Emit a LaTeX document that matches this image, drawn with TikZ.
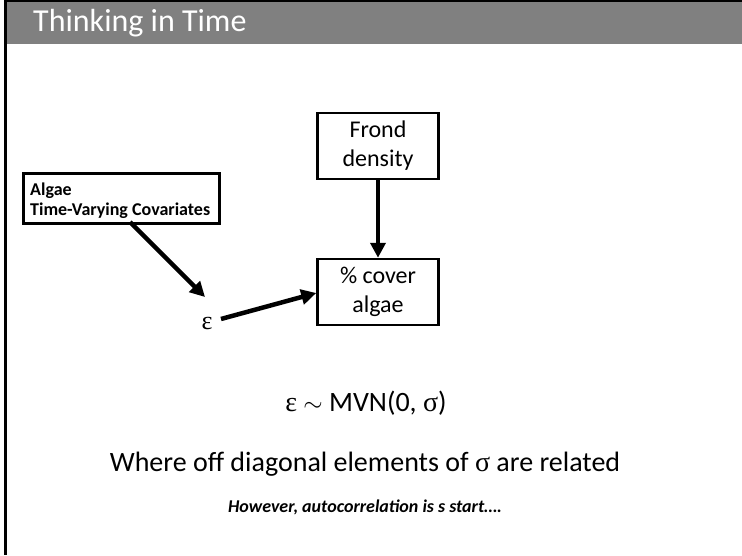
\documentclass[tikz,border=0pt]{standalone}
\usepackage{fontspec}
\setmainfont{Carlito}
\newfontfamily\grk{Liberation Serif}
\usetikzlibrary{arrows.meta}
\tikzset{
  box/.style={draw=black, line width=2.5pt, fill=white, inner sep=0pt},
  arr/.style={line width=4.5pt, -{Triangle[length=15pt,width=15pt]}},
  boxtext/.style={align=center, font=\fontsize{24}{29}\selectfont},
}
\begin{document}
\begin{tikzpicture}[x=1pt,y=-1pt]
\useasboundingbox (0,0) rectangle (742,555);
\fill[white] (0,0) rectangle (742,555);
\fill[black!50] (5,0) rectangle (742,44);
\fill[black] (5,0) rectangle (742,1.5);
\fill[black] (4,0) rectangle (7,555);
\node[anchor=base west, text=white, font=\fontsize{32}{34}\selectfont, inner sep=0pt] (title) at (33,31) {Thinking in Time};

\node[box, boxtext, minimum width=121pt, minimum height=66pt] (frond) at (378,146) {Frond\\density};
\node[box, boxtext, minimum width=121pt, minimum height=66pt] (cover) at (378,292) {\% cover\\algae};
\node[box, minimum width=196pt, minimum height=50pt, anchor=north west] (algae) at (22,172) {};
\node[anchor=base west, inner sep=0pt, align=left, font=\bfseries\fontsize{18}{19.5}\selectfont] (algaetxt) at (30,215) {Algae\\Time-Varying Covariates};

\node[inner sep=0pt, font=\grk\fontsize{26}{28}\selectfont] (eps) at (207,323) {ε};
\coordinate (a1) at (130,222);
\coordinate (a2) at (205,297);
\coordinate (e1) at (221,319);

\draw[arr] (frond.south) -- (cover.north);
\draw[arr] (a1) -- (a2);
\draw[arr] (e1) -- (cover.west |- 0,293);

\node[anchor=base, inner sep=0pt, font=\fontsize{28}{30}\selectfont] (mvn) at (366,411) {{\grk ε} $\sim$ MVN(0, {\grk σ})};
\node[anchor=base, inner sep=0pt, font=\fontsize{28}{30}\selectfont] (where) at (365,471) {Where off diagonal elements of {\grk σ} are related};
\node[anchor=base, inner sep=0pt, font=\bfseries\itshape\fontsize{18}{20}\selectfont] (however) at (365,512) {However, autocorrelation is s start….};
\end{tikzpicture}
\end{document}
